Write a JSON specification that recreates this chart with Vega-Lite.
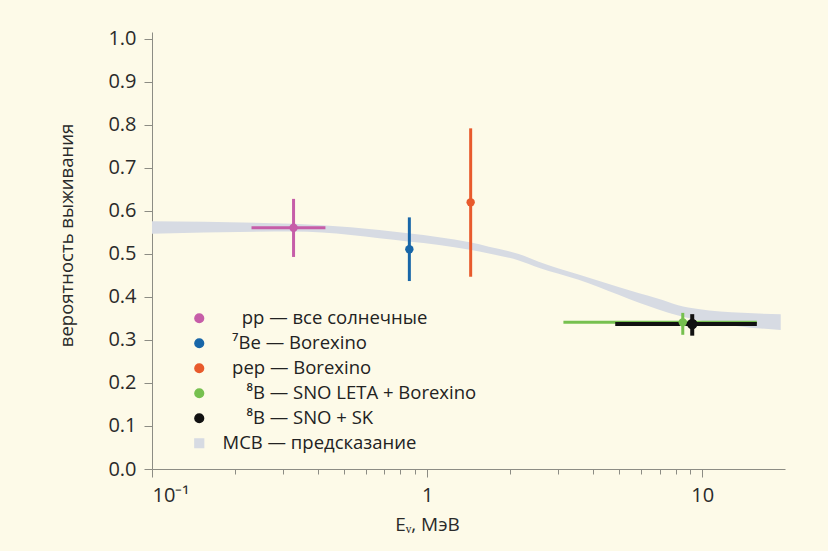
{
  "$schema": "https://vega.github.io/schema/vega-lite/v6.json",
  "width": 633,
  "height": 437,
  "autosize": {"type": "none"},
  "padding": {"left": 152, "top": 32, "right": 43, "bottom": 82},
  "background": "#fdfae8",
  "config": {
    "view": {"stroke": null},
    "font": "Open Sans",
    "axis": {
      "grid": false,
      "domainColor": "#8c8c84",
      "tickColor": "#8c8c84",
      "labelColor": "#2a2a2a",
      "titleColor": "#2a2a2a",
      "labelFont": "Open Sans",
      "titleFont": "Open Sans",
      "labelFontSize": 20,
      "titleFontWeight": "normal",
      "titleFontSize": 19
    },
    "legend": {
      "labelFont": "Open Sans",
      "labelFontSize": 18.5,
      "labelColor": "#222222",
      "symbolSize": 75,
      "rowPadding": 6,
      "labelOffset": 14,
      "padding": 0,
      "labelLimit": 400
    }
  },
  "datasets": {
    "band": [
      {"E": 0.1, "lo": 0.547, "hi": 0.576, "series": "МСВ — предсказание"},
      {"E": 0.327, "lo": 0.552, "hi": 0.570, "series": "МСВ — предсказание"},
      {"E": 0.852, "lo": 0.529, "hi": 0.548, "series": "МСВ — предсказание"},
      {"E": 1.105, "lo": 0.521, "hi": 0.539, "series": "МСВ — предсказание"},
      {"E": 1.43, "lo": 0.510, "hi": 0.527, "series": "МСВ — предсказание"},
      {"E": 1.677, "lo": 0.501, "hi": 0.517, "series": "МСВ — предсказание"},
      {"E": 2.154, "lo": 0.485, "hi": 0.500, "series": "МСВ — предсказание"},
      {"E": 2.546, "lo": 0.468, "hi": 0.482, "series": "МСВ — предсказание"},
      {"E": 3.554, "lo": 0.440, "hi": 0.452, "series": "МСВ — предсказание"},
      {"E": 4.963, "lo": 0.405, "hi": 0.423, "series": "МСВ — предсказание"},
      {"E": 5.86, "lo": 0.387, "hi": 0.409, "series": "МСВ — предсказание"},
      {"E": 6.93, "lo": 0.371, "hi": 0.396, "series": "МСВ — предсказание"},
      {"E": 8.18, "lo": 0.357, "hi": 0.381, "series": "МСВ — предсказание"},
      {"E": 9.67, "lo": 0.346, "hi": 0.372, "series": "МСВ — предсказание"},
      {"E": 14.0, "lo": 0.331, "hi": 0.363, "series": "МСВ — предсказание"},
      {"E": 19.3, "lo": 0.323, "hi": 0.360, "series": "МСВ — предсказание"}
    ],
    "points": [
      {"series": "\u200b\u00a0\u00a0\u00a0\u00a0pp — все солнечные", "E": 0.327, "p": 0.561, "plo": 0.493, "phi": 0.628, "Elo": 0.23, "Ehi": 0.427},
      {"series": "\u200b\u00a0\u00a0⁷Be — Borexino", "E": 0.862, "p": 0.511, "plo": 0.437, "phi": 0.585, "Elo": null, "Ehi": null},
      {"series": "\u200b\u00a0\u00a0pep — Borexino", "E": 1.44, "p": 0.620, "plo": 0.447, "phi": 0.792, "Elo": null, "Ehi": null},
      {"series": "\u200b\u00a0\u00a0\u00a0\u00a0\u00a0⁸B — SNO LETA + Borexino", "E": 8.5, "p": 0.341, "plo": 0.312, "phi": 0.363, "Elo": 3.13, "Ehi": 15.8},
      {"series": "\u200b\u00a0\u00a0\u00a0\u00a0\u00a0⁸B — SNO + SK", "E": 9.2, "p": 0.337, "plo": 0.310, "phi": 0.360, "Elo": 4.83, "Ehi": 15.8}
    ]
  },
  "layer": [
    {
      "data": {"name": "band"},
      "mark": {"type": "area", "interpolate": "monotone", "opacity": 1},
      "encoding": {
        "x": {
          "field": "E", "type": "quantitative",
          "scale": {"type": "log", "domain": [0.1, 20], "nice": false},
          "axis": {
            "values": [0.1, 0.2, 0.3, 0.4, 0.5, 0.6, 0.7, 0.8, 0.9, 1, 2, 3, 4, 5, 6, 7, 8, 9, 10],
            "labelExpr": "datum.value == 0.1 ? '10⁻¹' : (datum.value == 1 ? '1' : (datum.value == 10 ? '10' : ''))",
            "labelOverlap": false,
            "labelPadding": 8,
            "tickSize": {"condition": {"test": "datum.value == 0.1 || datum.value == 1 || datum.value == 10", "value": 8}, "value": 5},
            "title": "Eᵥ, МэВ",
            "titleX": 275,
            "titleY": 55,
            "titleBaseline": "middle"
          }
        },
        "y": {
          "field": "lo", "type": "quantitative",
          "scale": {"domain": [0, 1.016], "nice": false, "zero": false},
          "axis": {
            "values": [0, 0.1, 0.2, 0.3, 0.4, 0.5, 0.6, 0.7, 0.8, 0.9, 1.0],
            "format": ".1f",
            "tickSize": 8,
            "labelPadding": 8,
            "title": "вероятность выживания",
            "titleX": -86,
            "titleY": 203,
            "titleBaseline": "middle",
            "titleFontSize": 18.5
          }
        },
        "y2": {"field": "hi"},
        "color": {
          "field": "series", "type": "nominal",
          "scale": {
            "domain": ["\u200b\u00a0\u00a0\u00a0\u00a0pp — все солнечные", "\u200b\u00a0\u00a0⁷Be — Borexino", "\u200b\u00a0\u00a0pep — Borexino", "\u200b\u00a0\u00a0\u00a0\u00a0\u00a0⁸B — SNO LETA + Borexino", "\u200b\u00a0\u00a0\u00a0\u00a0\u00a0⁸B — SNO + SK", "МСВ — предсказание"],
            "range": ["#c65da8", "#1866a8", "#e85a2c", "#76c04f", "#111111", "#d7dbe3"]
          },
          "legend": {"title": null, "orient": "none", "legendX": 38, "legendY": 277, "labelOffset": 14}
        }
      }
    },
    {
      "data": {"name": "points"},
      "transform": [{"filter": "datum.Elo != null"}],
      "mark": {"type": "rule"},
      "encoding": {
        "x": {"field": "Elo", "type": "quantitative"},
        "x2": {"field": "Ehi"},
        "y": {"field": "p", "type": "quantitative"},
        "color": {"field": "series", "type": "nominal"},
        "strokeWidth": {"condition": {"test": "datum.E == 9.2", "value": 4}, "value": 3}
      }
    },
    {
      "data": {"name": "points"},
      "mark": {"type": "rule"},
      "encoding": {
        "x": {"field": "E", "type": "quantitative"},
        "y": {"field": "plo", "type": "quantitative"},
        "y2": {"field": "phi"},
        "color": {"field": "series", "type": "nominal"},
        "strokeWidth": {"condition": {"test": "datum.E == 9.2", "value": 4}, "value": 3}
      }
    },
    {
      "data": {"name": "points"},
      "mark": {"type": "point", "filled": true, "opacity": 1},
      "encoding": {
        "x": {"field": "E", "type": "quantitative"},
        "y": {"field": "p", "type": "quantitative"},
        "color": {"field": "series", "type": "nominal"},
        "shape": {
          "field": "series", "type": "nominal",
          "scale": {
            "domain": ["\u200b\u00a0\u00a0\u00a0\u00a0pp — все солнечные", "\u200b\u00a0\u00a0⁷Be — Borexino", "\u200b\u00a0\u00a0pep — Borexino", "\u200b\u00a0\u00a0\u00a0\u00a0\u00a0⁸B — SNO LETA + Borexino", "\u200b\u00a0\u00a0\u00a0\u00a0\u00a0⁸B — SNO + SK", "МСВ — предсказание"],
            "range": ["circle", "circle", "circle", "circle", "circle", "square"]
          },
          "legend": {"title": null, "orient": "none", "legendX": 38, "legendY": 277, "labelOffset": 14}
        },
        "size": {"condition": {"test": "datum.E == 9.2", "value": 110}, "value": 70}
      }
    }
  ]
}
